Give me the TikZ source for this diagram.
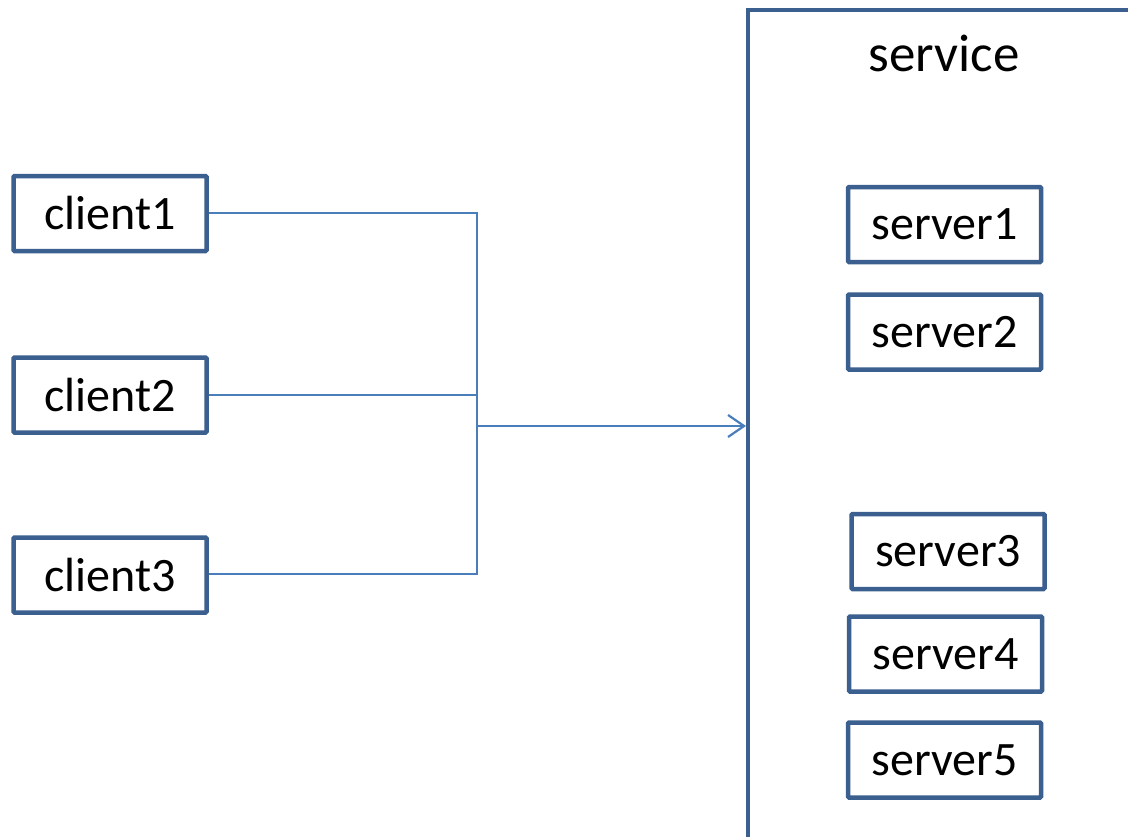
\documentclass[tikz,border=0pt]{standalone}
\usepackage{fontspec}
\setmainfont{Carlito}
\usetikzlibrary{arrows.meta}
\definecolor{boxblue}{HTML}{3B5F8E}
\definecolor{lineblue}{HTML}{4A7EBB}
\begin{document}
\begin{tikzpicture}[x=1pt,y=-1pt,
  box/.style={draw=boxblue,line width=4.5pt,fill=white,rounded corners=1pt,
    minimum width=193pt,minimum height=75pt,inner sep=0pt,
    font=\fontsize{48}{52}\selectfont},
  conn/.style={draw=lineblue,line width=2.2pt},
  lbl/.style={font=\fontsize{53}{58}\selectfont,inner sep=0pt}]
\useasboundingbox (0,0) rectangle (1128,836);
% clients
\node[box] (c1) at (110,213.5) {client1};
\node[box] (c2) at (110,395) {client2};
\node[box] (c3) at (110,575) {client3};
% service frame
\coordinate (fb) at (748,840);
\coordinate (ft) at (748,10);
\coordinate (fr) at (1132,10);
\draw[draw=boxblue,line width=4.5pt] (fb) -- (ft) -- (fr);
\node[lbl] (svc) at (944,53) {service};
% servers
\node[box] (s1) at (944.5,224.5) {server1};
\node[box] (s2) at (944.5,332) {server2};
\node[box] (s3) at (948,551.5) {server3};
\node[box] (s4) at (945.5,654) {server4};
\node[box] (s5) at (944.5,760) {server5};
% connectors
\coordinate (j1) at (477,213);
\coordinate (j3) at (477,574);
\coordinate (ja) at (477,426);
\coordinate (tip) at (746,426);
\draw[conn] (c1.east |- j1) -- (j1) -- (j3) -- (c3.east |- j3);
\draw[conn] (c2.east) -- (c2.east -| j1);
\draw[conn,-{Straight Barb[length=16pt,width=22pt,line width=2.2pt]}] (ja) -- (tip);
\end{tikzpicture}
\end{document}
